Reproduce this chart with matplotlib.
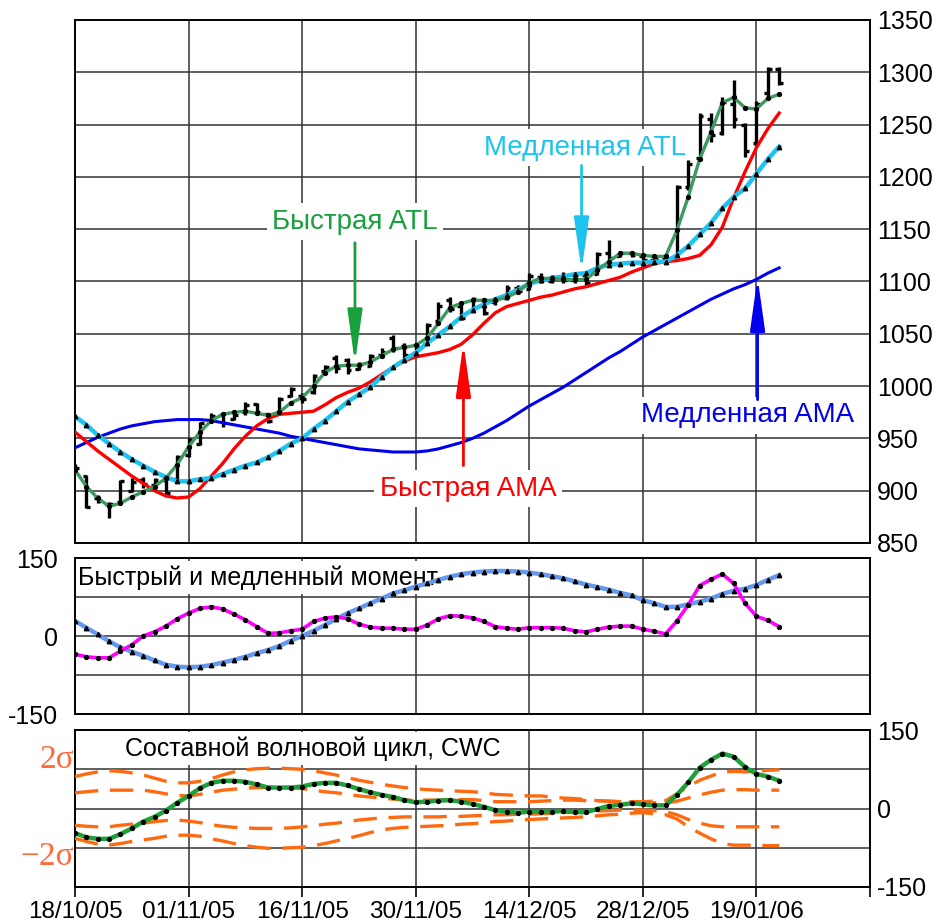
import numpy as np
import matplotlib
matplotlib.use("Agg")
import matplotlib.pyplot as plt

plt.rcParams['font.family'] = ['Liberation Sans', 'DejaVu Sans']
plt.rcParams['axes.unicode_minus'] = False

# ---- price bars -------------------------------------------------------
bar_open = [920, 914, 893, 887, 889, 900, 910, 905, 910, 911,
            934, 945, 968, 972, 969, 975, 983, 973, 975, 991,
            991, 994, 1014, 1027, 1025, 1016, 1019, 1030, 1046, 1038,
            1031, 1040, 1062, 1082, 1077, 1072, 1082, 1080, 1084, 1094,
            1093, 1104, 1100, 1104, 1101, 1106, 1107, 1127, 1124, 1127,
            1124, 1121, 1122, 1124, 1190, 1218, 1255, 1242, 1270, 1250,
            1232, 1280, 1303]
bar_high = [926, 915, 896, 889, 910, 912, 913, 912, 913, 934,
            950, 966, 974, 974, 974, 985, 984, 974, 990, 999,
            993, 1012, 1020, 1030, 1027, 1023, 1031, 1036, 1049, 1041,
            1041, 1060, 1080, 1085, 1079, 1085, 1084, 1085, 1097, 1097,
            1108, 1108, 1106, 1109, 1109, 1109, 1128, 1140, 1129, 1128,
            1125, 1125, 1125, 1192, 1216, 1261, 1261, 1276, 1293, 1252,
            1273, 1305, 1305]
bar_low = [918, 883, 888, 874, 888, 899, 903, 903, 896, 910,
           932, 944, 965, 961, 968, 972, 972, 965, 974, 990,
           984, 992, 1012, 1013, 1012, 1015, 1018, 1027, 1033, 1025,
           1030, 1039, 1060, 1071, 1063, 1071, 1068, 1078, 1082, 1089,
           1092, 1099, 1099, 1099, 1099, 1097, 1106, 1118, 1123, 1123,
           1120, 1118, 1118, 1123, 1187, 1216, 1233, 1240, 1247, 1219,
           1230, 1276, 1288]
bar_close = [922, 884, 890, 887, 909, 908, 906, 910, 898, 932,
             948, 965, 971, 965, 972, 982, 975, 967, 988, 997,
             988, 1010, 1018, 1017, 1015, 1021, 1029, 1033, 1036, 1030,
             1038, 1058, 1077, 1074, 1065, 1083, 1070, 1083, 1094, 1091,
             1105, 1101, 1104, 1101, 1106, 1099, 1126, 1122, 1127, 1125,
             1121, 1122, 1120, 1190, 1212, 1258, 1240, 1272, 1255, 1225,
             1270, 1303, 1290]

# ---- trend lines -------------------------------------------------------
fast_atl = [920, 904, 893, 885, 888, 894, 899, 904, 912, 925,
            942, 956, 967, 973, 975, 976, 974, 972, 975, 984,
            989, 1000, 1013, 1019, 1020, 1020, 1023, 1029, 1035, 1037,
            1039, 1046, 1060, 1075, 1079, 1082, 1082, 1082, 1085, 1090,
            1099, 1103, 1103, 1102, 1102, 1102, 1111, 1119, 1127, 1127,
            1125, 1124, 1124, 1149, 1181, 1217, 1243, 1271, 1276, 1266,
            1265, 1275, 1279]
slow_atl = [971, 963, 953, 945, 937, 930, 924, 918, 913, 909,
            909, 911, 912, 916, 920, 924, 927, 932, 938, 945,
            950, 959, 967, 976, 985, 992, 999, 1009, 1018, 1025,
            1032, 1041, 1049, 1057, 1066, 1073, 1078, 1083, 1087, 1092,
            1098, 1101, 1103, 1105, 1107, 1108, 1113, 1116, 1117, 1118,
            1118, 1119, 1119, 1125, 1134, 1145, 1156, 1170, 1181, 1189,
            1203, 1217, 1229]
fast_ama = [956, 947, 938, 930, 922, 914, 907, 900, 895, 893,
            894, 902, 914, 926, 940, 952, 962, 969, 973, 974,
            975, 976, 982, 989, 994, 998, 1004, 1011, 1018, 1024,
            1028, 1030, 1032, 1035, 1040, 1049, 1060, 1070, 1076, 1079,
            1082, 1085, 1087, 1090, 1093, 1095, 1098, 1101, 1104, 1109,
            1113, 1117, 1119, 1120, 1122, 1125, 1135, 1152, 1180, 1205,
            1228, 1246, 1261]
slow_ama = [941, 946, 951, 955, 959, 962, 964, 966, 967, 968,
            968, 968, 967, 965, 963, 961, 959, 957, 955, 952,
            950, 948, 946, 944, 942, 940, 939, 938, 937, 937,
            937, 938, 940, 943, 946, 950, 955, 961, 967, 974,
            981, 987, 993, 999, 1006, 1013, 1020, 1027, 1033, 1040,
            1047, 1053, 1059, 1065, 1071, 1077, 1083, 1088, 1093, 1097,
            1102, 1108, 1113]

# ---- momentum ----------------------------------------------------------
fast_mom = [-35, -40, -42, -42, -29, -17, 0, 8, 19, 33,
            44, 53, 56, 52, 42, 31, 18, 5, 6, 10,
            13, 28, 34, 37, 33, 23, 17, 15, 15, 13,
            13, 21, 33, 39, 38, 35, 28, 18, 15, 13,
            16, 16, 16, 15, 10, 8, 13, 17, 19, 19,
            13, 9, 4, 29, 60, 97, 109, 119, 101, 63,
            38, 30, 18]
slow_mom = [29, 16, 3, -10, -22, -30, -38, -47, -55, -59,
            -60, -59, -56, -51, -46, -40, -33, -27, -19, -9,
            0, 10, 21, 33, 44, 53, 63, 72, 82, 88,
            95, 101, 108, 114, 119, 122, 124, 125, 125, 124,
            122, 119, 115, 111, 105, 99, 94, 89, 83, 78,
            69, 63, 56, 56, 61, 66, 72, 81, 87, 91,
            98, 108, 117]

# ---- composite wave cycle and its bands ------------------------------
cwc = [-47, -55, -58, -58, -49, -38, -25, -16, -4, 11,
       24, 39, 49, 53, 53, 51, 46, 40, 40, 40,
       42, 47, 49, 49, 44, 37, 31, 26, 22, 16,
       12, 13, 15, 16, 13, 9, 3, -3, -6, -8,
       -6, -6, -6, -5, -7, -7, -1, 5, 7, 10,
       8, 6, 6, 26, 50, 78, 93, 105, 99, 79,
       66, 61, 53]
band_up2 = [61, 66, 70, 72, 71, 68, 64, 58, 52, 49,
            49, 52, 57, 64, 70, 74, 76, 77, 77, 76,
            75, 72, 68, 64, 59, 54, 50, 46, 43, 40,
            38, 36, 35, 34, 33, 32, 30, 27, 26, 25,
            24, 24, 22, 20, 19, 17, 15, 14, 13, 13,
            13, 14, 15, 28, 42, 54, 62, 70, 71, 70,
            71, 73, 74]
band_up1 = [30, 32, 34, 35, 35, 35, 35, 32, 28, 25,
            24, 27, 31, 35, 37, 39, 40, 40, 40, 40,
            38, 35, 32, 30, 27, 24, 22, 20, 18, 16,
            16, 16, 16, 16, 17, 17, 15, 13, 13, 13,
            13, 14, 15, 16, 16, 15, 15, 14, 13, 13,
            12, 11, 10, 14, 20, 26, 31, 35, 36, 36,
            35, 35, 35]
band_dn1 = [-32, -34, -35, -35, -32, -30, -28, -25, -23, -22,
            -24, -27, -31, -34, -36, -37, -38, -38, -38, -37,
            -35, -33, -30, -28, -25, -22, -20, -18, -17, -16,
            -16, -16, -16, -15, -15, -14, -13, -12, -12, -11,
            -11, -10, -9, -8, -7, -6, -5, -4, -3, -3,
            -3, -4, -6, -12, -21, -28, -33, -35, -35, -35,
            -35, -35, -35]
band_dn2 = [-57, -63, -68, -70, -67, -63, -60, -57, -53, -51,
            -51, -53, -58, -62, -67, -71, -74, -76, -76, -75,
            -74, -71, -67, -62, -57, -52, -46, -41, -38, -36,
            -35, -34, -33, -32, -30, -29, -27, -25, -24, -22,
            -21, -20, -19, -18, -17, -16, -14, -12, -11, -9,
            -8, -10, -12, -20, -35, -47, -58, -67, -70, -70,
            -70, -71, -71]

date_labels = ['18/10/05', '01/11/05', '16/11/05', '30/11/05',
               '14/12/05', '28/12/05', '19/01/06']
price_ticks = [850, 900, 950, 1000, 1050, 1100, 1150, 1200, 1250, 1300, 1350]

x = np.arange(len(bar_close))
XMAX = 70
xt = np.arange(0, XMAX + 1, 10)

fig = plt.figure(figsize=(9.5, 9.23), dpi=100)
W, H = 950, 923


def add_axes(left, top, right, bottom):
    return fig.add_axes([left / W, 1 - bottom / H, (right - left) / W, (bottom - top) / H])


ax1 = add_axes(75, 20, 870, 543)
ax2 = add_axes(75, 558, 870, 714)
ax3 = add_axes(75, 730, 870, 887)

TICK_FS = 18
grid_kw = dict(color='#333333', lw=1.1, zorder=0.5)

for ax in (ax1, ax2, ax3):
    ax.set_xlim(0, XMAX)
    for s in ax.spines.values():
        s.set_linewidth(1.4)
        s.set_color('black')
    for v in xt[1:-1]:
        ax.axvline(v, **grid_kw)

# ---- top panel --------------------------------------------------------
ax1.set_ylim(850, 1350)
for p in price_ticks[1:-1]:
    ax1.axhline(p, **grid_kw)
ax1.set_xticks([])
ax1.yaxis.tick_right()
ax1.set_yticks(price_ticks)
ax1.tick_params(axis='y', length=0, pad=5, labelsize=TICK_FS)

w = 0.33
ax1.vlines(x, bar_low, bar_high, color='black', lw=2.4, zorder=3)
ax1.hlines(bar_open, x - w, x, color='black', lw=2.4, zorder=3)
ax1.hlines(bar_close, x, x + w, color='black', lw=2.4, zorder=3)

ax1.plot(x, slow_ama, color='#0000EE', lw=2.2, zorder=4)
ax1.plot(x, fast_ama, color='#FF0000', lw=2.4, zorder=4)
ax1.plot(x, slow_atl, color='#1EC3F0', lw=3.2, zorder=5,
         marker='^', ms=3.2, mfc='black', mec='black')
ax1.plot(x, fast_atl, color='#3C9A60', lw=2.4, zorder=6,
         marker='o', ms=2.8, mfc='black', mec='black')

label_box = dict(facecolor='white', edgecolor='none', pad=4)
annot = [
    ('Быстрая ATL', '#17A03C', (24.65, 1157), (24.65, 1137), (24.65, 1022)),
    ('Медленная ATL', '#1EC3F0', (44.9, 1228), (44.6, 1211), (44.6, 1110)),
    ('Быстрая AMA', '#FF0000', (34.6, 902), (34.2, 924), (34.2, 1041)),
    ('Медленная AMA', '#0000EE', (59.2, 972), (60.1, 987), (60.1, 1104)),
]
for txt, col, tpos, tail, tip in annot:
    ax1.text(tpos[0], tpos[1], txt, color=col, fontsize=20,
             ha='center', va='center', bbox=label_box, zorder=2)
    ax1.annotate('', xy=tip, xytext=tail,
                 arrowprops=dict(arrowstyle='-|>,head_length=3.2,head_width=0.45',
                                 color=col, lw=2, mutation_scale=10,
                                 shrinkA=0, shrinkB=0),
                 zorder=7)

# ---- momentum panel ---------------------------------------------------
ax2.set_ylim(-150, 150)
for v in (-75, 0, 75):
    ax2.axhline(v, **grid_kw)
ax2.set_xticks([])
ax2.set_yticks([-150, 0, 150])
ax2.tick_params(axis='y', length=0, pad=12, labelsize=TICK_FS)
ax2.text(0.004, 0.875, 'Быстрый и медленный момент', transform=ax2.transAxes,
         fontsize=18, ha='left', va='center', zorder=1,
         bbox=dict(facecolor='white', edgecolor='none', pad=3))
ax2.plot(x, slow_mom, color='#6699EE', lw=3.2, zorder=4,
         marker='^', ms=3.2, mfc='black', mec='black')
ax2.plot(x, fast_mom, color='#FF00FF', lw=2.6, zorder=5,
         marker='o', ms=2.8, mfc='black', mec='black')

# ---- composite wave cycle panel ---------------------------------------
ax3.set_ylim(-150, 150)
for v in (-75, 0, 75):
    ax3.axhline(v, **grid_kw)
ax3.yaxis.tick_right()
ax3.set_yticks([-150, 0, 150])
ax3.tick_params(axis='y', length=0, pad=5, labelsize=TICK_FS)
ax3.set_xticks(xt)
ax3.set_xticklabels(date_labels + [''])
ax3.tick_params(axis='x', direction='out', length=7, width=1.2,
                pad=3, labelsize=17.5)
ax3.text(0.063, 0.88, 'Составной волновой цикл, CWC', transform=ax3.transAxes,
         fontsize=18, ha='left', va='center', zorder=1,
         bbox=dict(facecolor='white', edgecolor='none', pad=3))
band_kw = dict(color='#FF6A10', lw=2.4, dashes=(7, 3.5), zorder=3)
for band in (band_up2, band_up1, band_dn1, band_dn2):
    ax3.plot(x, band, **band_kw)
ax3.plot(x, cwc, color='#1FA03A', lw=3.2, zorder=5,
         marker='o', ms=2.8, mfc='black', mec='black')

sigma_kw = dict(color='#FF6A3D', fontsize=24, ha='right', va='center',
                family=['Liberation Serif', 'DejaVu Serif'])
fig.text(74 / W, 1 - 760 / H, '2σ', **sigma_kw)
fig.text(74 / W, 1 - 857 / H, '−2σ', **sigma_kw)

fig.savefig('out.png', dpi=100)
